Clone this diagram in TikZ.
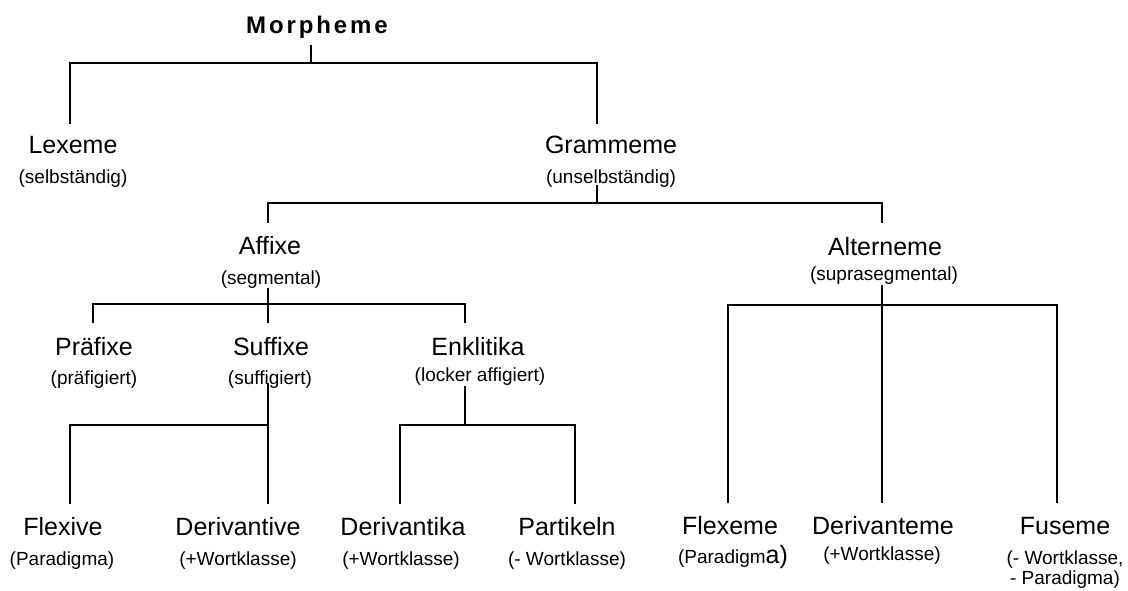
\documentclass[tikz,border=0pt]{standalone}
\usepackage{fontspec}
\setmainfont{Liberation Sans}
\newfontfamily\titlefont[LetterSpace=12]{Liberation Sans}
\usepackage{tikz}

\begin{document}
\begin{tikzpicture}
		[x=1pt,y=-1pt,
		lineDecorate/.style={-,line width=1.6pt},%
		termDecorate/.style={inner sep=0pt,anchor=base,font=\fontsize{25}{30}\selectfont},%
		noteDecorate/.style={inner sep=0pt,anchor=base,align=center,font=\fontsize{19}{23}\selectfont}]
		\useasboundingbox (0,0) rectangle (1128,590);
		%% root
		\node (Morpheme) at (317,33) [termDecorate,font=\titlefont\bfseries\fontsize{24}{28}\selectfont] {Morpheme};
		%% terms
		\foreach \nodename/\x/\y/\text in {
			Lexeme/73/153/Lexeme, Grammeme/611/153/Grammeme,
			Affixe/270/254/Affixe, Alterneme/885/255/Alterneme,
			Praefixe/94/355/Präfixe, Suffixe/271/355/Suffixe, Enklitika/478/355/Enklitika,
			Flexive/63/535/Flexive, Derivantive/238/535/Derivantive,
			Derivantika/403/535/Derivantika, Partikeln/567/535/Partikeln,
			Flexeme/730/534/Flexeme, Derivanteme/883/534/Derivanteme, Fuseme/1065/534/Fuseme}
		{
			\node (\nodename) at (\x,\y) [termDecorate] {\text};
		}
		%% notes under the terms
		\foreach \nodename/\x/\y/\text in {
			Lexeme/73/183/(selbständig), Grammeme/611/183/(unselbständig),
			Affixe/271/284/(segmental), Alterneme/884/280/(suprasegmental),
			Praefixe/94/384/(präfigiert), Suffixe/270/384/(suffigiert),
			Enklitika/480/381/(locker affigiert),
			Flexive/62/565/(Paradigma), Derivantive/238/565/(+Wortklasse),
			Derivantika/401/565/(+Wortklasse), Partikeln/567/565/(- Wortklasse),
			Flexeme/733/563/{(Paradigm{\fontsize{25}{30}\selectfont a)}},
			Derivanteme/882/560/(+Wortklasse),
			Fuseme/1065/584/{(- Wortklasse,\\[-3pt]- Paradigma)}}
		{
			\node (\nodename-note) at (\x,\y) [noteDecorate] {\text};
		}
		%% where lines leave a parent and reach a child
		\foreach \nodename/\x/\y in {
			Morpheme/311/45, Grammeme/597/185, Affixe/268/288,
			Suffixe/268/383, Enklitika/465/386, Alterneme/882/285}
			\coordinate (\nodename-out) at (\x,\y);
		\foreach \nodename/\x/\y in {
			Lexeme/70/124, Grammeme/597/124, Affixe/268/223, Alterneme/882/223,
			Praefixe/93/323, Suffixe/268/323, Enklitika/465/323,
			Flexive/70/504, Derivantive/268/504, Derivantika/400/504, Partikeln/575/504,
			Flexeme/728/503, Derivanteme/882/503, Fuseme/1057/503}
			\coordinate (\nodename-in) at (\x,\y);
		%% edges or lines
		\foreach \startnode/\bar/\endnode in {
			Morpheme/63/Lexeme, Morpheme/63/Grammeme,
			Grammeme/203/Affixe, Grammeme/203/Alterneme,
			Affixe/304/Praefixe, Affixe/304/Suffixe, Affixe/304/Enklitika,
			Suffixe/425/Flexive, Suffixe/425/Derivantive,
			Enklitika/425/Derivantika, Enklitika/425/Partikeln,
			Alterneme/305/Flexeme, Alterneme/305/Derivanteme, Alterneme/305/Fuseme}
		{
			\draw[lineDecorate] (\startnode-out) |- (\endnode-in |- 0,\bar) -- (\endnode-in);
		}
	\end{tikzpicture}
\end{document}
